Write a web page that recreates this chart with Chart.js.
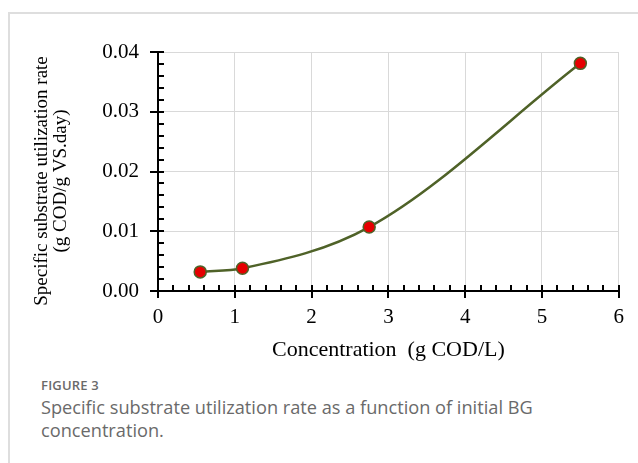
<!DOCTYPE html>
<html>
<head>
<meta charset="utf-8">
<script src="https://cdn.jsdelivr.net/npm/chart.js@4/dist/chart.umd.min.js"></script>
<style>
  html, body { margin: 0; padding: 0; background: #fff; }
  body { width: 638px; height: 463px; position: relative; overflow: hidden; }
  #frame { position: absolute; left: 8px; top: 12px; width: 700px; height: 500px;
           border-left: 2px solid #dedede; border-top: 2px solid #dedede; }
  #wrap { position: absolute; left: 0; top: 0; width: 638px; height: 372px; }
  #caption { position: absolute; left: 41px; top: 375px; width: 545px;
             font-family: "Open Sans", sans-serif; color: #6a6a6a; }
  #caption .fig { font-size: 13px; font-weight: 600; letter-spacing: 0.2px; line-height: 20px; }
  #caption .txt { font-size: 18.2px; line-height: 23px; font-weight: 400; margin-top: 1px; }
</style>
</head>
<body>
<div id="frame"></div>
<div id="wrap"><canvas id="chart" width="638" height="372"></canvas></div>
<div id="caption">
  <div class="fig">FIGURE 3</div>
  <div class="txt">Specific substrate utilization rate as a function of initial BG concentration.</div>
</div>
<script>
const concentration = [0.55, 1.1, 2.75, 5.5];
const utilizationRate = [0.0032, 0.0038, 0.0107, 0.0381];

const xTitle = 'Concentration  (g COD/L)';
// trailing spaces nudge the rotated title a little lower, as in the original
const yTitle = ['Specific substrate utilization rate    ', '(g COD/g VS.day)    '];

const SERIF = '"Liberation Serif", "Times New Roman", serif';
const GRID = '#d9d9d9';

const isMajor = (v, step) => Math.abs(v / step - Math.round(v / step)) < 1e-6;

// excel style tick marks: majors cross the axis, minors point inward
const tickMarks = {
    id: 'tickMarks',
    afterDraw(chart) {
        const { ctx, scales: { x, y } } = chart;
        ctx.save();
        ctx.strokeStyle = '#000';
        ctx.lineWidth = 2;
        ctx.beginPath();
        x.ticks.forEach(t => {
            const px = Math.round(x.getPixelForValue(t.value));
            const major = isMajor(t.value, 1);
            ctx.moveTo(px, x.top - 6);
            ctx.lineTo(px, major ? x.top + 7 : x.top);
        });
        y.ticks.forEach(t => {
            const py = Math.round(y.getPixelForValue(t.value));
            const major = isMajor(t.value, 0.01);
            ctx.moveTo(major ? y.right - 8 : y.right, py);
            ctx.lineTo(y.right + 6, py);
        });
        ctx.stroke();
        ctx.restore();
    }
};

const ctx = document.getElementById('chart');
new Chart(ctx, {
    type: 'line',
    data: {
        datasets: [{
            data: concentration.map((c, i) => ({ x: c, y: utilizationRate[i] })),
            borderColor: '#4f6228',
            borderWidth: 2.5,
            cubicInterpolationMode: 'monotone',
            pointRadius: 6,
            pointBackgroundColor: '#e60000',
            pointBorderColor: '#4f6228',
            pointBorderWidth: 1.5,
            fill: false
        }]
    },
    options: {
        responsive: false,
        animation: false,
        layout: { padding: { top: 52, right: 16, left: 0, bottom: 0 } },
        plugins: { legend: { display: false }, tooltip: { enabled: false } },
        scales: {
            x: {
                type: 'linear',
                min: 0, max: 6,
                afterFit: s => { s.height = 81; },
                border: { color: '#000', width: 2 },
                grid: {
                    drawTicks: false,
                    color: c => isMajor(c.tick.value, 1) ? GRID : 'rgba(0,0,0,0)'
                },
                ticks: {
                    stepSize: 0.2,
                    autoSkip: false,
                    maxRotation: 0,
                    padding: 14,
                    color: '#000',
                    font: { family: SERIF, size: 21 },
                    callback: v => isMajor(v, 1) ? String(Math.round(v)) : ''
                },
                title: {
                    display: true,
                    text: xTitle,
                    color: '#000',
                    font: { family: SERIF, size: 22 },
                    padding: { top: 0, bottom: 9 }
                }
            },
            y: {
                min: 0, max: 0.04,
                afterFit: s => { s.width = 158; },
                border: { color: '#000', width: 2 },
                grid: {
                    drawTicks: false,
                    color: c => isMajor(c.tick.value, 0.01) ? GRID : 'rgba(0,0,0,0)'
                },
                ticks: {
                    stepSize: 0.002,
                    autoSkip: false,
                    padding: 19,
                    color: '#000',
                    font: { family: SERIF, size: 21 },
                    callback: v => isMajor(v, 0.01) ? v.toFixed(2) : ''
                },
                title: {
                    display: true,
                    text: yTitle,
                    color: '#000',
                    font: { family: SERIF, size: 19, lineHeight: 1 },
                    padding: { top: 33, bottom: 0 }
                }
            }
        }
    },
    plugins: [tickMarks]
});
</script>
</body>
</html>
